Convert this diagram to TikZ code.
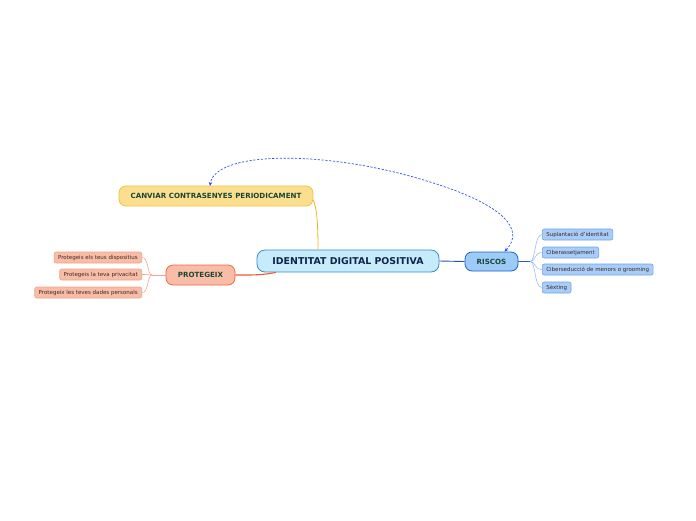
\documentclass[tikz,border=0pt]{standalone}
\usepackage{fontspec}
\setmainfont{DejaVu Sans}
\usetikzlibrary{arrows.meta}
\definecolor{cenfill}{HTML}{C6ECFC}
\definecolor{cendraw}{HTML}{3A8AD0}
\definecolor{canfill}{HTML}{FCDF8E}
\definecolor{candraw}{HTML}{F7C03E}
\definecolor{profill}{HTML}{F9BCA6}
\definecolor{prodraw}{HTML}{EE6A42}
\definecolor{prochild}{HTML}{F3A388}
\definecolor{risfill}{HTML}{9DCBF8}
\definecolor{risdraw}{HTML}{1F62C4}
\definecolor{rchfill}{HTML}{A9CDF9}
\definecolor{rchdraw}{HTML}{6FA2E6}
\definecolor{txtgreen}{HTML}{1B4636}
\definecolor{txtnavy}{HTML}{122448}
\definecolor{txtdark}{HTML}{3A2A24}
\definecolor{orangeline}{HTML}{F6B21E}
\definecolor{redline}{HTML}{EE5A2A}
\definecolor{blueline}{HTML}{1F55B8}
\definecolor{dashblue}{HTML}{2E50F0}
\begin{document}
\begin{tikzpicture}[x=1pt,y=-1pt,
  mainbox/.style={draw=cendraw,fill=cenfill,rounded corners=8pt,line width=0.8pt,
    minimum width=182pt,minimum height=22pt,inner sep=0pt,
    font=\fontsize{9.4}{10}\selectfont\bfseries,text=txtnavy},
  topicbox/.style={rounded corners=7pt,line width=0.8pt,minimum height=20pt,inner sep=0pt,
    font=\fontsize{7.1}{8}\selectfont\bfseries,text=txtgreen},
  leafbox/.style={rounded corners=2pt,line width=0.6pt,minimum height=11pt,inner ysep=0pt,inner xsep=4pt,
    font=\fontsize{5.5}{6}\selectfont,text=txtdark},
  pleaf/.style={leafbox,draw=prochild,fill=profill},
  rleaf/.style={leafbox,draw=rchdraw,fill=rchfill},
]
\useasboundingbox (0,0) rectangle (696,520);
\node[mainbox] (c) at (348,261) {IDENTITAT DIGITAL POSITIVA};
\node[topicbox,draw=candraw,fill=canfill,minimum width=194pt] (can) at (216,196) {CANVIAR CONTRASENYES PERIODICAMENT};
\node[topicbox,draw=prodraw,fill=profill,minimum width=69pt] (pro) at (200.5,275) {PROTEGEIX};
\node[topicbox,draw=risdraw,fill=risfill,minimum width=53pt,minimum height=19pt] (ris) at (491.5,261.5) {RISCOS};

\node[pleaf,anchor=east] (p1) at (142,257.5) {Protegeis els teus dispositius};
\node[pleaf,anchor=east] (p2) at (142,274.5) {Protegeis la teva privacitat};
\node[pleaf,anchor=east] (p3) at (142,292.5) {Protegeix les teves dades personals};

\node[rleaf,anchor=west] (r1) at (542,234.5) {Suplantació d'identitat};
\node[rleaf,anchor=west] (r2) at (542,252.5) {Ciberassetjament};
\node[rleaf,anchor=west] (r3) at (542,269.5) {Ciberseducció de menors o grooming};
\node[rleaf,anchor=west] (r4) at (542,287.5) {Sèxting};

% main connectors
\draw[orangeline,line width=0.8pt] ([xshift=-30pt]c.north) .. controls ++(0,-30) and ++(3,8) .. ([yshift=-4pt]can.east);
\draw[redline,line width=1.1pt] ([xshift=-72pt]c.south) .. controls ++(-15,3) and ++(15,0) .. (pro.east);
\draw[blueline,line width=0.9pt] (c.east) -- (ris.west);
% protegeix branches
\coordinate (pb) at (152,275);
\draw[prochild,line width=0.6pt] (pro.west) -- (pb);
\foreach \n in {p1,p2,p3}{
  \draw[prochild,line width=0.6pt] (pb) .. controls (147,275) and (149,0|-\n.east) .. (\n.east);
}
% riscos branches
\coordinate (rb) at (530,261.5);
\draw[risdraw,line width=0.6pt] (ris.east) -- (rb);
\foreach \n in {r1,r2,r3,r4}{
  \draw[rchdraw!80,line width=0.5pt] (rb) .. controls (536,261.5) and (534,0|-\n.west) .. (\n.west);
}
% dashed relationship
\draw[dashblue,line width=0.7pt,dashed,dash pattern=on 2.2pt off 1.6pt,{Stealth[length=4pt,width=3.5pt]}-{Stealth[length=4pt,width=3.5pt]}]
  ([xshift=13pt]ris.north) .. controls (525,230) and (505,205) .. (430,182)
  .. controls (330,150) and (215,150) .. (210,186);
\end{tikzpicture}
\end{document}
